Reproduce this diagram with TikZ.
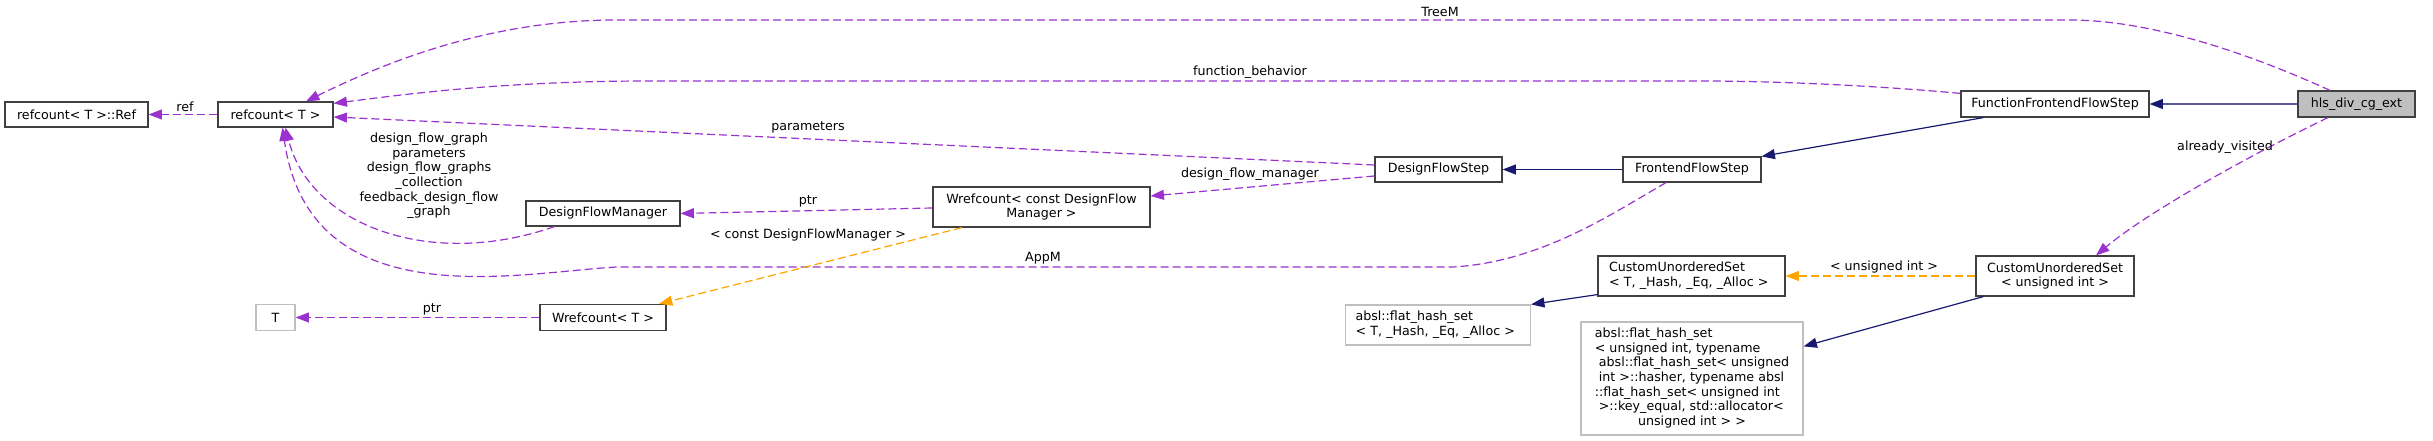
\documentclass[tikz,border=0pt]{standalone}
\usepackage{fontspec}
\setmainfont{DejaVu Sans}
\usetikzlibrary{arrows.meta,calc}
\definecolor{edgepurple}{HTML}{9A32CD}
\definecolor{edgeorange}{HTML}{FFA500}
\definecolor{edgeblue}{HTML}{191970}
\definecolor{edgeblueline}{HTML}{5A5A9C}
\definecolor{boxborder}{HTML}{404040}
\definecolor{grayborder}{HTML}{BFBFBF}
\definecolor{hlsfill}{HTML}{BFBFBF}
\begin{document}
\begin{tikzpicture}[x=0.75pt,y=-0.75pt,
  every node/.style={font=\fontsize{9.5}{11}\selectfont, inner sep=0pt},
  cls/.style={draw=boxborder, line width=0.9pt, fill=white, align=center},
  ext/.style={draw=grayborder, line width=0.9pt, fill=white, align=center},
  cur/.style={draw=boxborder, line width=0.9pt, fill=hlsfill, align=center},
  tiphead/.style={-{Triangle[length=10pt,width=7.5pt]}},
  usage/.style={draw=edgepurple, line width=0.9pt, dash pattern=on 6pt off 3pt, tiphead},
  tmpl/.style={draw=edgeorange, line width=0.9pt, dash pattern=on 6pt off 3pt, tiphead},
  inh/.style={draw=edgeblue, line width=0.9pt, tiphead},
  elabel/.style={text=black, align=center}]
\useasboundingbox (0,0) rectangle (2433,441);

% nodes
\node[cls, minimum width=107.25pt, minimum height=18.75pt] (ref) at (76.5,114.5) {refcount< T >::Ref};
\node[cls, minimum width=86.25pt, minimum height=18.75pt] (rc) at (275.5,114.5) {refcount< T >};
\node[ext, minimum width=29.25pt, minimum height=19.5pt] (T) at (275.5,317.5) {T};
\node[cls, minimum width=94.5pt, minimum height=19.5pt] (wT) at (603,317.5) {Wrefcount< T >};
\node[cls, minimum width=115.5pt, minimum height=18.75pt] (dfm) at (603,213.5) {DesignFlowManager};
\node[cls, minimum width=162.75pt, minimum height=30pt] (wc) at (1041.5,207) {Wrefcount< const DesignFlow\\Manager >};
\node[cls, minimum width=95.25pt, minimum height=18.75pt] (dfs) at (1438.5,169.5) {DesignFlowStep};
\node[cls, minimum width=103.5pt, minimum height=18.75pt] (ffs) at (1692,169.5) {FrontendFlowStep};
\node[cls, minimum width=141pt, minimum height=19.5pt] (fffs) at (2055,104) {FunctionFrontendFlowStep};
\node[cur, minimum width=87.75pt, minimum height=19.5pt] (hls) at (2356.5,104) {hls\_div\_cg\_ext};
\node[cls, minimum width=140.25pt, minimum height=30pt, inner xsep=8.25pt, text width=123.75pt, align=left] (cusT) at (1691.5,276) {CustomUnorderedSet\\< T, \_Hash, \_Eq, \_Alloc >};
\node[cls, minimum width=118.5pt, minimum height=30pt] (cusU) at (2055,276) {CustomUnorderedSet\\< unsigned int >};
\node[ext, minimum width=138.75pt, minimum height=30pt, inner xsep=7.5pt, text width=123.75pt, align=left] (abslT) at (1438,325) {absl::flat\_hash\_set\\< T, \_Hash, \_Eq, \_Alloc >};
\node[ext, minimum width=166.5pt, minimum height=84.75pt] (abslU) at (1692,378.5) {\begin{tabular}{@{}l@{}}
absl::flat\_hash\_set\\
< unsigned int, typename\\
\hspace{3pt}absl::flat\_hash\_set< unsigned\\
\hspace{3pt}int >::hasher, typename absl\\
::flat\_hash\_set< unsigned int\\
\hspace{3pt}>::key\_equal, std::allocator<\\
\multicolumn{1}{@{}c@{}}{unsigned int > >}
\end{tabular}};

% inheritance edges
\draw[inh, draw=edgeblueline, -{Triangle[length=10pt,width=7.5pt,fill=edgeblue,color=edgeblue]}] (hls.west) -- (fffs.east);
\draw[inh] ($(fffs.south west)+(23,0)$) -- (ffs.north east);
\draw[inh] (ffs.west) -- (dfs.east);
\draw[inh] ($(cusU.south west)+(8,0)$) -- ($(abslU.north east)+(0,25)$);
\draw[inh] ($(cusT.south west)+(0,-2)$) -- (abslT.north east);

% usage edges
\draw[usage] ($(hls.north)+(-26.5,0)$) .. controls (2230,45) and (2140,20) .. (2069,20) -- (617,20) .. controls (500,20) and (400,55) .. ($(rc.north)+(30.5,0)$);
\node[elabel] (lTreeM) at (1440,12) {TreeM};

\draw[usage] ($(fffs.north west)+(0,3)$) .. controls (1880,86) and (1780,81) .. (1700,81) -- (650,81) .. controls (500,81) and (400,95) .. ($(rc.north east)+(0,2)$);
\node[elabel] (lfb) at (1250,72) {function\_behavior};

\draw[usage] ($(dfs.west)+(0,-4.5)$) -- ($(rc.east)+(0,2.5)$);
\node[elabel] (lpar) at (808,127) {parameters};

\draw[usage] ($(dfs.west)+(0,6.5)$) -- ($(wc.east)+(0,-11)$);
\node[elabel] (ldfm) at (1250,174) {design\_flow\_manager};

\draw[usage] ($(wc.west)+(0,1)$) -- (dfm.east);
\node[elabel] (lptrA) at (808,201) {ptr};

\draw[usage] ($(dfm.south west)+(29,0)$) .. controls (430,270) and (310,225) .. ($(rc.south)+(10,0)$);
\node[elabel] (lmulti) at (429,176) {design\_flow\_graph\\parameters\\design\_flow\_graphs\\\_collection\\feedback\_design\_flow\\\_graph};

\draw[usage] ($(ffs.south)+(-26,0)$) .. controls (1610,215) and (1540,262) .. (1453,267) -- (617,267) .. controls (520,272) and (310,320) .. ($(rc.south)+(7,0)$);
\node[elabel] (lAppM) at (1043,258) {AppM};

\draw[usage] (wT.west) -- (T.east);
\node[elabel] (lptrB) at (432,309) {ptr};

\draw[usage] (rc.west) -- (ref.east);
\node[elabel] (lref) at (185,107) {ref};

\draw[usage] ($(hls.south)+(-28.5,0)$) .. controls (2260,150) and (2150,210) .. ($(cusU.north)+(41,0)$);
\node[elabel] (lav) at (2225,147) {already\_visited};

% template edges
\draw[tmpl] ($(wc.south)+(-79.5,0)$) -- ($(wT.north)+(56,0)$);
\node[elabel] (lcdfm) at (808,235) {< const DesignFlowManager >};

\draw[tmpl] (cusU.west) -- (cusT.east);
\node[elabel] (lui) at (1884,267) {< unsigned int >};
\end{tikzpicture}
\end{document}
